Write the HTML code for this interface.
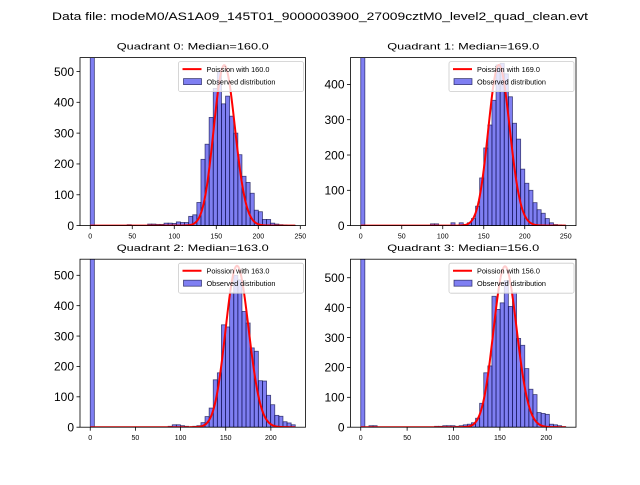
<!DOCTYPE html>
<html><head><meta charset="utf-8"><style>
body{margin:0;background:#fff}
svg text{font-family:"Liberation Sans","DejaVu Sans",sans-serif}
</style></head><body>
<svg id="fig" width="640" height="480" viewBox="0 0 640 480" xmlns="http://www.w3.org/2000/svg">
<rect width="640" height="480" fill="#fff"/>
<text x="320" y="20" text-anchor="middle" font-size="11" textLength="536" lengthAdjust="spacingAndGlyphs">Data file: modeM0/AS1A09_145T01_9000003900_27009cztM0_level2_quad_clean.evt</text>
</svg>
<script>
// ---- data ----
const medians = [160.0, 169.0, 163.0, 156.0];
const binMax = [244, 250, 227, 221];
const yMax = [545, 476, 553, 562];
const yTicks0 = [0,100,200,300,400,500];
const yTicks1 = [0,100,200,300,400];
const yTicks2 = [0,100,200,300,400,500];
const yTicks3 = [0,100,200,300,400,500];
const xTicks0 = [0,50,100,150,200,250];
const xTicks1 = [0,50,100,150,200,250];
const xTicks2 = [0,50,100,150,200];
const xTicks3 = [0,50,100,150,200];
const counts0 = [2000,0,0,0,0,0,0,0,0,3,0,0,0,0,5,5,4,4,8,8,7,12,10,10,30,35,75,215,264,351,445,500,395,420,355,300,230,160,140,105,50,45,20,20,8,5,3,2,1,1];
const counts1 = [2000,0,0,0,0,0,0,0,0,0,0,0,0,0,0,0,0,5,5,0,0,0,8,0,8,3,8,20,55,135,220,285,355,455,460,430,365,290,245,160,120,100,65,45,35,20,8,3,2,1];
const counts2 = [2000,0,0,0,0,0,0,0,0,0,0,0,0,0,0,0,0,0,0,3,8,8,5,3,0,3,5,15,35,63,156,179,337,330,442,500,485,381,343,261,250,153,152,105,74,39,36,18,14,8];
const counts3 = [2000,0,5,5,0,0,0,0,0,0,0,0,0,0,0,0,0,0,3,3,5,5,5,3,5,8,10,15,30,80,182,205,438,394,416,491,404,450,297,274,196,127,109,49,46,43,10,8,5,2];
const poissonPeak = [520, 455, 531, 538];

const countsAll=[counts0,counts1,counts2,counts3];
const yTicksAll=[yTicks0,yTicks1,yTicks2,yTicks3];
const xTicksAll=[xTicks0,xTicks1,xTicks2,xTicks3];
const NS="http://www.w3.org/2000/svg";
const svg=document.getElementById('fig');
function mk(tag,attrs,parent){const e=document.createElementNS(NS,tag);for(const k in attrs)e.setAttribute(k,attrs[k]);(parent||svg).appendChild(e);return e;}
const boxes=[[80,57.6],[350.5,57.6],[80,259.2],[350.5,259.2]];
const W=225.5,H=168;
function lnPois(k,l){
  if(k<=0) return -l;
  const lg=k*Math.log(k)-k+0.5*Math.log(2*Math.PI*k)+1/(12*k);
  return k*Math.log(l)-l-lg;}
for(let q=0;q<4;q++){
  const [L,T]=boxes[q];
  const g=mk('g',{});
  
  
  const counts=countsAll[q], n=counts.length, bw=binMax[q]/n;
  const pad=binMax[q]*0.05, x0=-pad, x1=binMax[q]+pad;
  const sx=v=>L+(v-x0)/(x1-x0)*W;
  const sy=v=>T+H-Math.min(v,yMax[q]*1.2)/yMax[q]*H;
  const cid='clip'+q;
  const cp=mk('clipPath',{id:cid},g); mk('rect',{x:L,y:T,width:W,height:H},cp);
  const plot=mk('g',{'clip-path':'url(#'+cid+')'},g);
  for(let i=0;i<n;i++){
    if(counts[i]<=0) continue;
    const r=mk('rect',{x:sx(i*bw),y:sy(counts[i]),width:sx(bw)-sx(0),height:T+H-sy(counts[i]),fill:'rgba(0,0,230,0.5)',stroke:'rgba(20,20,80,0.75)','stroke-width':0.8},plot);
    
    
  }
  const lam=medians[q], pk=Math.exp(lnPois(Math.floor(lam),lam));
  let d='';
  for(let k=0;k<=binMax[q];k+=1){const v=poissonPeak[q]*Math.exp(lnPois(k,lam))/pk;d+=(d?'L':'M')+sx(k).toFixed(2)+','+sy(v).toFixed(2);}
  const pl=mk('path',{d:d,fill:'none',stroke:'#ff0000','stroke-width':2},plot);
  
  
  mk('rect',{x:L,y:T,width:W,height:H,fill:'none',stroke:'#000','stroke-width':0.8},g);
  xTicksAll[q].forEach(v=>{const x=sx(v);mk('line',{x1:x,x2:x,y1:T+H,y2:T+H+3.5,stroke:'#000','stroke-width':0.8},g);
    const t=mk('text',{x:x,y:T+H+13,'text-anchor':'middle','font-size':7},g);t.textContent=v;
    });
  yTicksAll[q].forEach(v=>{const y=sy(v);mk('line',{x1:L,x2:L-3.5,y1:y,y2:y,stroke:'#000','stroke-width':0.8},g);
    const t=mk('text',{x:L-6,y:y+4.3,'text-anchor':'end','font-size':12},g);t.textContent=v;
    });
  const tt=mk('text',{x:L+W/2,y:T-8,'text-anchor':'middle','font-size':9.5,textLength:152,lengthAdjust:'spacingAndGlyphs'},g);
  tt.textContent='Quadrant '+q+': Median='+lam.toFixed(1);
  
  const lg=mk('g',{},g);
  
  const lx=L+W-127, ly=T+4;
  mk('rect',{x:lx,y:ly,width:125,height:30,rx:2,fill:'rgba(255,255,255,0.8)',stroke:'#ccc','stroke-width':0.8},lg);
  mk('line',{x1:lx+4,x2:lx+23,y1:ly+7.5,y2:ly+7.5,stroke:'#ff0000','stroke-width':2},lg);
  const t1=mk('text',{x:lx+28,y:ly+10.2,'font-size':7.3},lg);t1.textContent='Poission with '+lam.toFixed(1);
  mk('rect',{x:lx+5,y:ly+17,width:18,height:6,fill:'rgba(0,0,230,0.5)',stroke:'rgba(20,20,80,0.75)','stroke-width':0.8},lg);
  const t2=mk('text',{x:lx+28,y:ly+23,'font-size':7.3},lg);t2.textContent='Observed distribution';
}
</script>
</body></html>
